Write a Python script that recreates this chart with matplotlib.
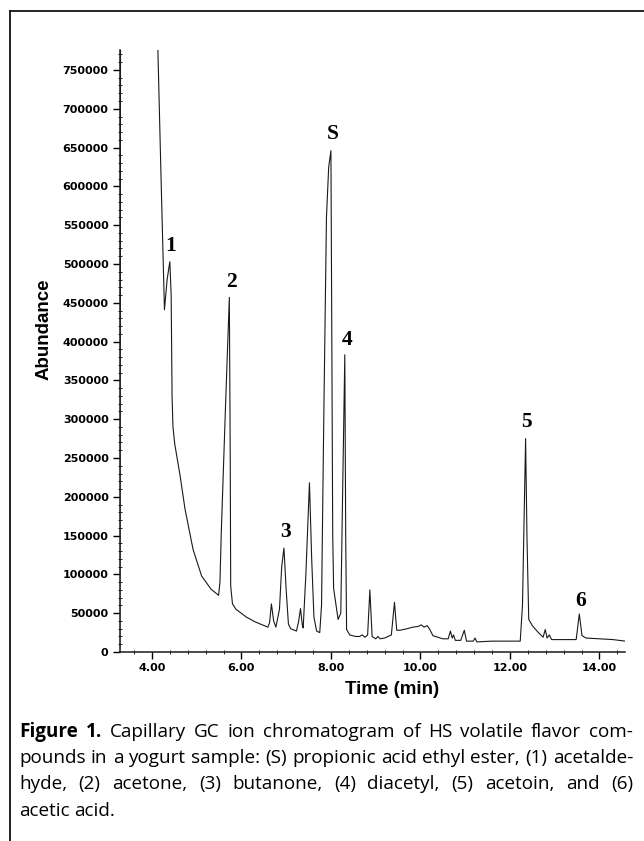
import matplotlib
matplotlib.use("Agg")
import matplotlib.pyplot as plt
from matplotlib.ticker import MultipleLocator
from matplotlib.lines import Line2D

# --- data ---
time_min = [
    3.28, 3.29, 3.30, 4.08, 4.20, 4.28, 4.34, 4.40, 4.43, 4.45, 4.47, 4.51,
    4.63, 4.74, 4.92, 5.11, 5.32, 5.49, 5.52, 5.55, 5.65, 5.73, 5.75, 5.76,
    5.80, 5.88, 6.11, 6.30, 6.59, 6.63, 6.67, 6.72, 6.77, 6.85, 6.90, 6.95,
    7.00, 7.05, 7.10, 7.23, 7.28, 7.32, 7.36, 7.38, 7.44, 7.52, 7.57, 7.62,
    7.68, 7.75, 7.79, 7.84, 7.90, 7.95, 8.00, 8.02, 8.04, 8.06, 8.16, 8.22,
    8.26, 8.31, 8.33, 8.35, 8.42, 8.55, 8.64, 8.70, 8.76, 8.82, 8.87, 8.92,
    9.00, 9.05, 9.10, 9.20, 9.35, 9.42, 9.47, 9.54, 9.70, 9.83, 9.95, 10.02,
    10.08, 10.15, 10.20, 10.28, 10.50, 10.62, 10.67, 10.71, 10.74, 10.78,
    10.90, 10.98, 11.03, 11.18, 11.22, 11.26, 11.60, 12.00, 12.23, 12.28,
    12.35, 12.38, 12.42, 12.50, 12.62, 12.74, 12.79, 12.83, 12.88, 12.93,
    13.20, 13.48, 13.55, 13.61, 13.70, 14.00, 14.30, 14.58,
]
abundance = [
    5000, 300000, 900000, 900000, 620000, 441000, 480000, 503000, 460000,
    330000, 290000, 268000, 227000, 184000, 132000, 98000, 81000, 73000,
    90000, 154000, 326000, 457000, 250000, 85000, 62000, 55000, 45000,
    39000, 32000, 38000, 62000, 40000, 32000, 55000, 110000, 134000, 80000,
    36000, 30000, 27000, 40000, 56000, 35000, 31000, 100000, 218000, 120000,
    45000, 27000, 25000, 60000, 300000, 560000, 625000, 646000, 400000,
    150000, 82000, 42000, 50000, 200000, 383000, 150000, 29000, 22000,
    20000, 20000, 22000, 19000, 22000, 80000, 20000, 17000, 20000, 17000,
    18000, 22000, 64000, 28000, 28000, 30000, 32000, 33000, 35000, 32000,
    34000, 30000, 21000, 17000, 17000, 27000, 18000, 22000, 15000, 15000,
    28000, 14000, 14000, 18000, 13000, 14000, 14000, 14000, 60000, 275000,
    150000, 42000, 34000, 26000, 19000, 29000, 18000, 22000, 16000, 16000,
    16000, 49000, 21000, 18000, 17000, 16000, 14000,
]

peak_names = ["1", "2", "3", "S", "4", "5", "6"]
peak_label_t = [4.42, 5.78, 6.98, 8.05, 8.35, 12.37, 13.58]
peak_label_y = [523000, 477000, 155000, 667000, 402000, 296000, 66000]

x_ticks = [4, 6, 8, 10, 12, 14]
y_ticks = list(range(0, 750001, 50000))

caption_lines = [
    "Figure 1. Capillary GC ion chromatogram of HS volatile flavor com-",
    "pounds in a yogurt sample: (S) propionic acid ethyl ester, (1) acetalde-",
    "hyde, (2) acetone, (3) butanone, (4) diacetyl, (5) acetoin, and (6)",
    "acetic acid.",
]
caption_font = "Open Sans"

W, H = 644, 841
fig = plt.figure(figsize=(W / 100, H / 100), dpi=100)


def px_box(left, top, right, bottom):
    return [left / W, 1 - bottom / H, (right - left) / W, (bottom - top) / H]


ax = fig.add_axes(px_box(119.7, 49.8, 625.4, 652))
ax.plot(time_min, abundance, color="#1a1a1a", lw=0.8)
ax.set_xlim(3.28, 14.58)
ax.set_ylim(0, 776000)

for side in ["top", "right"]:
    ax.spines[side].set_visible(False)
for side in ["left", "bottom"]:
    ax.spines[side].set_linewidth(1.1)
    ax.spines[side].set_color("#1a1a1a")

ax.set_xticks(x_ticks)
ax.set_xticklabels([f"{t:.2f}" for t in x_ticks], fontweight="bold", fontsize=8)
ax.set_yticks(y_ticks)
ax.set_yticklabels([str(v) for v in y_ticks], fontweight="bold", fontsize=8)
ax.xaxis.set_minor_locator(MultipleLocator(0.4))
ax.yaxis.set_minor_locator(MultipleLocator(10000))
ax.tick_params(which="major", length=5, width=1, pad=3, direction="out")
ax.tick_params(which="minor", length=2.5, width=0.6, direction="inout")

# peak annotations
for name, t, y in zip(peak_names, peak_label_t, peak_label_y):
    ax.text(t, y, name, fontsize=15.5, fontweight="bold",
            family="Liberation Serif", ha="center", va="center")

fig.text(392 / W, 1 - 690 / H, "Time (min)", fontsize=13.5, fontweight="bold",
         family="Liberation Sans", ha="center", va="center")
fig.text(44 / W, 1 - 329 / H, "Abundance", fontsize=13.5, fontweight="bold",
         family="Liberation Sans", ha="center", va="center", rotation=90)

# frame round the figure (top and left edges only)
fig.add_artist(Line2D([10 / W, 1], [1 - 11 / H, 1 - 11 / H],
                      transform=fig.transFigure, color="#111111", lw=1.3))
fig.add_artist(Line2D([10 / W, 10 / W], [1 - 11 / H, 0],
                      transform=fig.transFigure, color="#111111", lw=1.3))

# justified caption, word by word; font size chosen so the tightest line fits
renderer = fig.canvas.get_renderer()
x_left, x_right = 19, 633
baselines = [737, 763, 789, 816]
probe = fig.text(0, 0, caption_lines[1], fontsize=10, family=caption_font)
cap_size = 10 * (x_right - x_left) / (probe.get_window_extent(renderer).width * 1.01)
probe.remove()
space_probe = fig.text(0, 0, "a a", fontsize=cap_size, family=caption_font)
aa_probe = fig.text(0, 0, "aa", fontsize=cap_size, family=caption_font)
space_w = (space_probe.get_window_extent(renderer).width
           - aa_probe.get_window_extent(renderer).width)
space_probe.remove()
aa_probe.remove()

for i, (line, base) in enumerate(zip(caption_lines, baselines)):
    words = line.split(" ")
    texts = []
    for j, w in enumerate(words):
        weight = "bold" if (i == 0 and j < 2) else "normal"
        texts.append(fig.text(0, 1 - base / H, w, fontsize=cap_size, family=caption_font,
                              fontweight=weight, va="baseline", ha="left"))
    widths = [t.get_window_extent(renderer).width for t in texts]
    if i < len(caption_lines) - 1:
        gap = (x_right - x_left - sum(widths)) / (len(words) - 1)
    else:
        gap = space_w
    x = x_left
    for t, w in zip(texts, widths):
        t.set_x(x / W)
        x += w + gap

fig.savefig("out.png", dpi=100)
